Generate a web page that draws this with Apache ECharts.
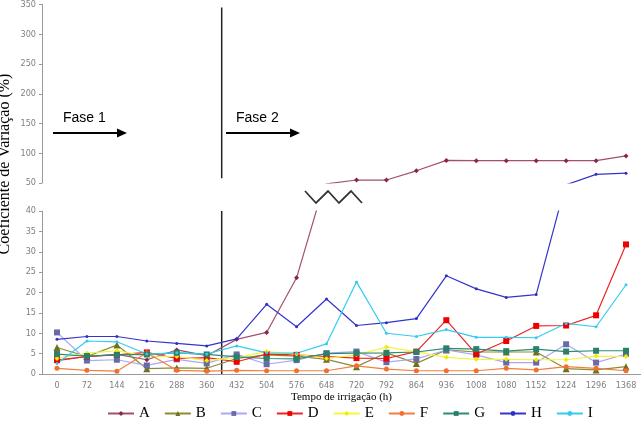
<!DOCTYPE html>
<html>
<head>
<meta charset="utf-8">
<script src="https://cdn.jsdelivr.net/npm/echarts@6/dist/echarts.min.js"></script>
<style>
  html, body { margin: 0; padding: 0; background: #fff; }
  #chart { width: 641px; height: 424px; }
</style>
</head>
<body>
<div id="chart"></div>
<script>
// irrigation time (h)
const hours = ['0', '72', '144', '216', '288', '360', '432', '504', '576', '648',
  '720', '792', '864', '936', '1008', '1080', '1152', '1224', '1296', '1368'];

// coefficient of variation (%) per emitter
const serA = [3.3, 4.3, 4.8, 3.5, 5.9, 4.5, 8.5, 10.2, 23.6, 48.5, 55, 55, 70.5, 88, 87.5, 87.5, 87.5, 87.5, 87.5, 95.5];
const serB = [6.5, 4.3, 7.1, 1.3, 1.5, 1.4, 3.8, 4.7, 4.4, 3.6, 1.8, 5.2, 2.6, 5.9, 5.4, 5.4, 5.4, 1.3, 1.0, 1.8];
const serC = [10.2, 3.3, 3.5, 2.1, 3.6, 2.6, 4.8, 2.4, 3.4, 5.1, 5.5, 2.9, 3.7, 5.9, 4.7, 2.8, 2.8, 7.3, 2.8, 4.9];
const serD = [3.4, 4.3, 4.7, 5.3, 3.8, 4.0, 3.0, 4.9, 4.7, 4.3, 3.9, 3.8, 5.5, 13.2, 4.9, 8.1, 11.8, 11.9, 14.4, 31.8];
const serE = [3.8, 5.1, 5.7, 4.4, 4.3, 3.3, 4.0, 5.5, 4.9, 3.8, 4.7, 6.6, 5.5, 4.1, 3.6, 3.6, 3.5, 3.5, 4.4, 4.3];
const serF = [1.4, 0.9, 0.7, 5.2, 0.9, 0.7, 0.9, 0.8, 0.8, 0.8, 2.0, 1.2, 0.8, 0.8, 0.8, 1.4, 1.0, 1.8, 1.4, 0.8];
const serG = [4.9, 4.4, 4.7, 4.8, 5.2, 4.8, 4.2, 3.8, 3.7, 5.0, 5.1, 5.2, 5.4, 6.3, 6.1, 5.6, 6.1, 5.5, 5.7, 5.7];
const serH = [8.5, 9.2, 9.2, 8.1, 7.5, 6.9, 8.6, 17.1, 11.6, 18.4, 11.9, 12.6, 13.6, 24.1, 20.9, 18.8, 19.5, 47, 64.5, 66.5];
const serI = [2.6, 8.1, 7.9, 4.9, 5.2, 4.9, 6.9, 5.2, 5.1, 7.4, 22.6, 10.0, 9.2, 10.9, 9.0, 9.0, 8.9, 12.4, 11.6, 21.9];

const names = ['A', 'B', 'C', 'D', 'E', 'F', 'G', 'H', 'I'];
const values = [serA, serB, serC, serD, serE, serF, serG, serH, serI];

// line colour, marker colour, marker shape, marker size
const looks = [
  ['#a0506e', '#8b2252', 'diamond', 5],
  ['#8c8c30', '#707020', 'triangle', 7],
  ['#a9a9f5', '#6a6aa8', 'rect', 6],
  ['#ee2222', '#ee0000', 'rect', 6],
  ['#f5f540', '#eeee00', 'diamond', 5],
  ['#f08040', '#f07030', 'circle', 5],
  ['#2e8b74', '#2a8068', 'rect', 6],
  ['#3434cc', '#3030c0', 'circle', 3],
  ['#33ccee', '#33ccee', 'circle', 3]
];

const tickFont = "'Liberation Sans Narrow', 'DejaVu Sans Condensed', Arial, sans-serif";
const axisGray = '#9a9a9a';

const series = [];
[0, 1].forEach(function (g) {
  names.forEach(function (n, k) {
    const lk = looks[k];
    series.push({
      name: n,
      type: 'line',
      xAxisIndex: g,
      yAxisIndex: g,
      data: values[k],
      symbol: lk[2],
      symbolSize: lk[3],
      clip: true,
      lineStyle: { color: lk[0], width: 1.2 },
      itemStyle: { color: lk[1] },
      animation: false
    });
  });
});

const yAxisCommon = {
  type: 'value',
  axisLine: { show: true, lineStyle: { color: axisGray } },
  axisTick: { show: true, length: 3, lineStyle: { color: axisGray } },
  axisLabel: { color: '#808080', fontSize: 9, fontFamily: tickFont, margin: 6 },
  splitLine: { show: false }
};

const chart = echarts.init(document.getElementById('chart'));
chart.setOption({
  backgroundColor: '#ffffff',
  animation: false,
  grid: [
    { left: 42, right: 0, top: 3, height: 180 },
    { left: 42, right: 0, top: 211, height: 163 }
  ],
  xAxis: [
    { type: 'category', gridIndex: 0, data: hours, show: false },
    {
      type: 'category', gridIndex: 1, data: hours,
      axisLine: { lineStyle: { color: axisGray } },
      axisTick: { length: 3, lineStyle: { color: axisGray } },
      axisLabel: { color: '#808080', fontSize: 9, fontFamily: tickFont, interval: 0, margin: 7 },
      name: 'Tempo de irrigação (h)',
      nameLocation: 'middle',
      nameGap: 18,
      nameTextStyle: { color: '#000', fontFamily: "'Liberation Serif', 'Times New Roman', serif", fontSize: 11 }
    }
  ],
  yAxis: [
    Object.assign({ gridIndex: 0, min: 50, max: 350, interval: 50 }, yAxisCommon),
    Object.assign({ gridIndex: 1, min: 0, max: 40, interval: 5 }, yAxisCommon)
  ],
  legend: {
    data: names,
    left: 102,
    top: 401,
    itemWidth: 26,
    itemHeight: 6,
    itemGap: 14,
    textStyle: { color: '#000', fontFamily: "'Liberation Serif', 'Times New Roman', serif", fontSize: 15 }
  },
  series: series
});

// phase divider, arrows, axis break and y title
const xDiv = (chart.convertToPixel({ xAxisIndex: 1 }, '360') + chart.convertToPixel({ xAxisIndex: 1 }, '432')) / 2;
const upTop = chart.convertToPixel({ yAxisIndex: 0 }, 345);
const upBot = chart.convertToPixel({ yAxisIndex: 0 }, 58);
const loTop = chart.convertToPixel({ yAxisIndex: 1 }, 40);
const loBot = chart.convertToPixel({ yAxisIndex: 1 }, 0);

function arrow(x0, x1, y) {
  return [
    { type: 'line', shape: { x1: x0, y1: y, x2: x1 - 8, y2: y }, style: { stroke: '#000', lineWidth: 2 } },
    { type: 'polygon', shape: { points: [[x1 - 10, y - 4.5], [x1, y], [x1 - 10, y + 4.5]] }, style: { fill: '#000' } }
  ];
}

const graphics = [
  { type: 'line', shape: { x1: xDiv, y1: upTop, x2: xDiv, y2: upBot }, style: { stroke: '#222', lineWidth: 1.5 } },
  { type: 'line', shape: { x1: xDiv, y1: loTop, x2: xDiv, y2: loBot }, style: { stroke: '#222', lineWidth: 1.5 } },
  { type: 'text', x: 63, y: 118, style: { text: 'Fase 1', fill: '#000', font: "14px 'Liberation Sans', Arial, sans-serif", verticalAlign: 'middle' } },
  { type: 'text', x: 236, y: 118, style: { text: 'Fase 2', fill: '#000', font: "14px 'Liberation Sans', Arial, sans-serif", verticalAlign: 'middle' } },
  {
    type: 'polyline',
    shape: { points: [[305, 191], [316, 203], [328, 191], [339, 203], [351, 191], [362, 203]] },
    style: { stroke: '#333', lineWidth: 1.8, fill: null }
  },
  {
    type: 'text', x: 5, y: 164, rotation: Math.PI / 2,
    style: {
      text: 'Coeficiente de Variação (%)', fill: '#000',
      font: "16px 'Liberation Serif', 'Times New Roman', serif",
      align: 'center', verticalAlign: 'middle'
    }
  }
].concat(arrow(53, 127, 133), arrow(226, 300, 133));

chart.setOption({ graphic: graphics });
</script>
</body>
</html>
